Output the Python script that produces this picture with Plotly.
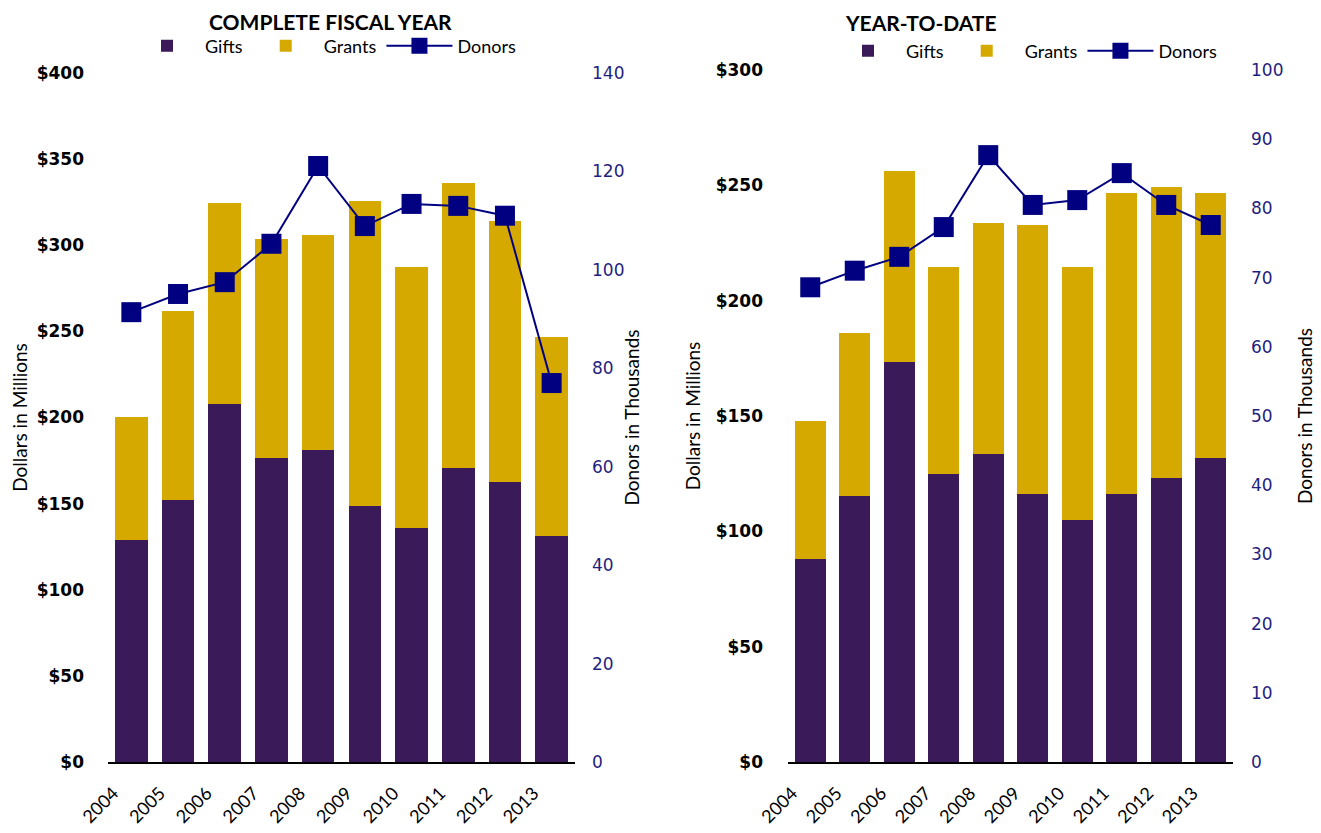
import plotly.graph_objects as go
from plotly.subplots import make_subplots

years = ["2004", "2005", "2006", "2007", "2008", "2009", "2010", "2011", "2012", "2013"]

# Complete fiscal year (dollars in millions, donors in thousands)
fy_gifts = [128.9, 152.1, 207.8, 176.5, 181.1, 148.6, 135.8, 170.7, 162.6, 131.2]
fy_grants = [71.4, 109.7, 116.7, 127.1, 124.9, 177.1, 151.6, 165.4, 151.5, 115.5]
fy_donors = [91.4, 95.1, 97.5, 105.3, 121.1, 108.9, 113.4, 113.0, 111.0, 77.0]

# Year-to-date
ytd_gifts = [88.0, 115.3, 173.4, 124.9, 133.5, 116.2, 104.9, 116.2, 123.1, 131.8]
ytd_grants = [59.8, 70.7, 82.8, 89.7, 100.2, 116.6, 109.7, 130.5, 126.2, 114.9]
ytd_donors = [68.6, 71.0, 73.0, 77.3, 87.7, 80.5, 81.2, 85.1, 80.5, 77.6]

GIFT_C = "#3B1A5A"
GRANT_C = "#D6A900"
DONOR_C = "#000080"
TICK_BLUE = "#1F1F80"

fig = make_subplots(rows=1, cols=2, specs=[[{"secondary_y": True}, {"secondary_y": True}]],
                    horizontal_spacing=0.19)

def add_set(col, gifts, grants, donors, legend):
    fig.add_trace(go.Bar(x=years, y=gifts, name="Gifts", marker=dict(color=GIFT_C, line=dict(width=0)),
                         legend=legend), row=1, col=col, secondary_y=False)
    fig.add_trace(go.Bar(x=years, y=grants, name="Grants", marker=dict(color=GRANT_C, line=dict(width=0)),
                         legend=legend), row=1, col=col, secondary_y=False)
    fig.add_trace(go.Scatter(x=years, y=donors, name="Donors", mode="lines+markers",
                             line=dict(color=DONOR_C, width=2),
                             marker=dict(symbol="square", size=20, color=DONOR_C),
                             legend=legend), row=1, col=col, secondary_y=True)

add_set(1, fy_gifts, fy_grants, fy_donors, "legend")
add_set(2, ytd_gifts, ytd_grants, ytd_donors, "legend2")

W, H = 1321, 833
OFF = 8  # page body margin offset
ml, mr, mt, mb = 100, 96, 62, 79
pw = W - ml - mr
ph = H - mt - mb

def px_x(x):
    return (x - OFF - ml) / pw

def px_y(y):
    return (H + OFF - mb - y) / ph

leg_font = dict(family="Lato", size=18, color="black")

fig.update_layout(
    width=W, height=H,
    margin=dict(l=ml, r=mr, t=mt, b=mb, autoexpand=False),
    barmode="stack", bargap=0.3,
    plot_bgcolor="white", paper_bgcolor="white",
    font=dict(family="Lato", size=16, color="black"),
    legend=dict(orientation="h", x=px_x(325), y=px_y(46), xanchor="center", yanchor="middle",
                traceorder="normal", font=leg_font, itemwidth=66,
                bgcolor="rgba(0,0,0,0)"),
    legend2=dict(orientation="h", x=px_x(1026), y=px_y(51), xanchor="center", yanchor="middle",
                 traceorder="normal", font=leg_font, itemwidth=66,
                 bgcolor="rgba(0,0,0,0)"),
    annotations=[
        dict(text="<b>COMPLETE FISCAL YEAR</b>", x=px_x(330), y=px_y(8), xref="paper", yref="paper",
             showarrow=False, font=dict(family="Lato", size=21, color="black"), xanchor="center", yanchor="top",
             borderpad=0),
        dict(text="<b>YEAR-TO-DATE</b>", x=px_x(921), y=px_y(9), xref="paper", yref="paper",
             showarrow=False, font=dict(family="Lato", size=21, color="black"), xanchor="center", yanchor="top",
             borderpad=0),
    ],
)

xcommon = dict(showline=True, linecolor="black", linewidth=1.5, ticks="", showgrid=False,
               range=[-0.5, 9.5], autorange=False,
               tickangle=-45, tickfont=dict(family="Lato", size=18, color="black"),
               ticklabelshift=-18, ticklabelstandoff=12, automargin=False)
fig.update_xaxes(**xcommon)
fig.update_xaxes(domain=[px_x(108), px_x(575)], row=1, col=1)
fig.update_xaxes(domain=[px_x(788), px_x(1233)], row=1, col=2)

ycommon = dict(showgrid=False, zeroline=False, showline=False, ticks="", automargin=False)
fig.update_yaxes(**ycommon)

bold_tick = dict(family="DejaVu Sans", size=17, color="black", weight="bold")
blue_tick = dict(family="DejaVu Sans", size=17, color=TICK_BLUE)
ttl_font = dict(family="Lato", size=19, color="black")

fig.update_yaxes(range=[0, 400], dtick=50, tickprefix="$", tickfont=bold_tick,
                 title=dict(text="Dollars in Millions", font=ttl_font, standoff=8),
                 tickformat="d", ticklabelstandoff=23, row=1, col=1, secondary_y=False)
fig.update_yaxes(range=[0, 140], dtick=20, tickfont=blue_tick,
                 title=dict(text="Donors in Thousands", font=ttl_font, standoff=2),
                 ticklabelstandoff=16, row=1, col=1, secondary_y=True)
fig.update_yaxes(range=[0, 300], dtick=50, tickprefix="$", tickfont=bold_tick,
                 title=dict(text="Dollars in Millions", font=ttl_font, standoff=10),
                 tickformat="d", ticklabelstandoff=24, row=1, col=2, secondary_y=False)
fig.update_yaxes(range=[0, 100], dtick=10, tickfont=blue_tick,
                 title=dict(text="Donors in Thousands", font=ttl_font, standoff=16),
                 ticklabelstandoff=17, row=1, col=2, secondary_y=True)

# left chart's plot area top is slightly lower than the right chart's
fig.update_layout(yaxis=dict(domain=[px_y(762), px_y(73)]), yaxis2=dict(domain=[px_y(762), px_y(73)]),
                  yaxis3=dict(domain=[px_y(762), px_y(70)]), yaxis4=dict(domain=[px_y(762), px_y(70)]))

fig.write_html("out.html")
